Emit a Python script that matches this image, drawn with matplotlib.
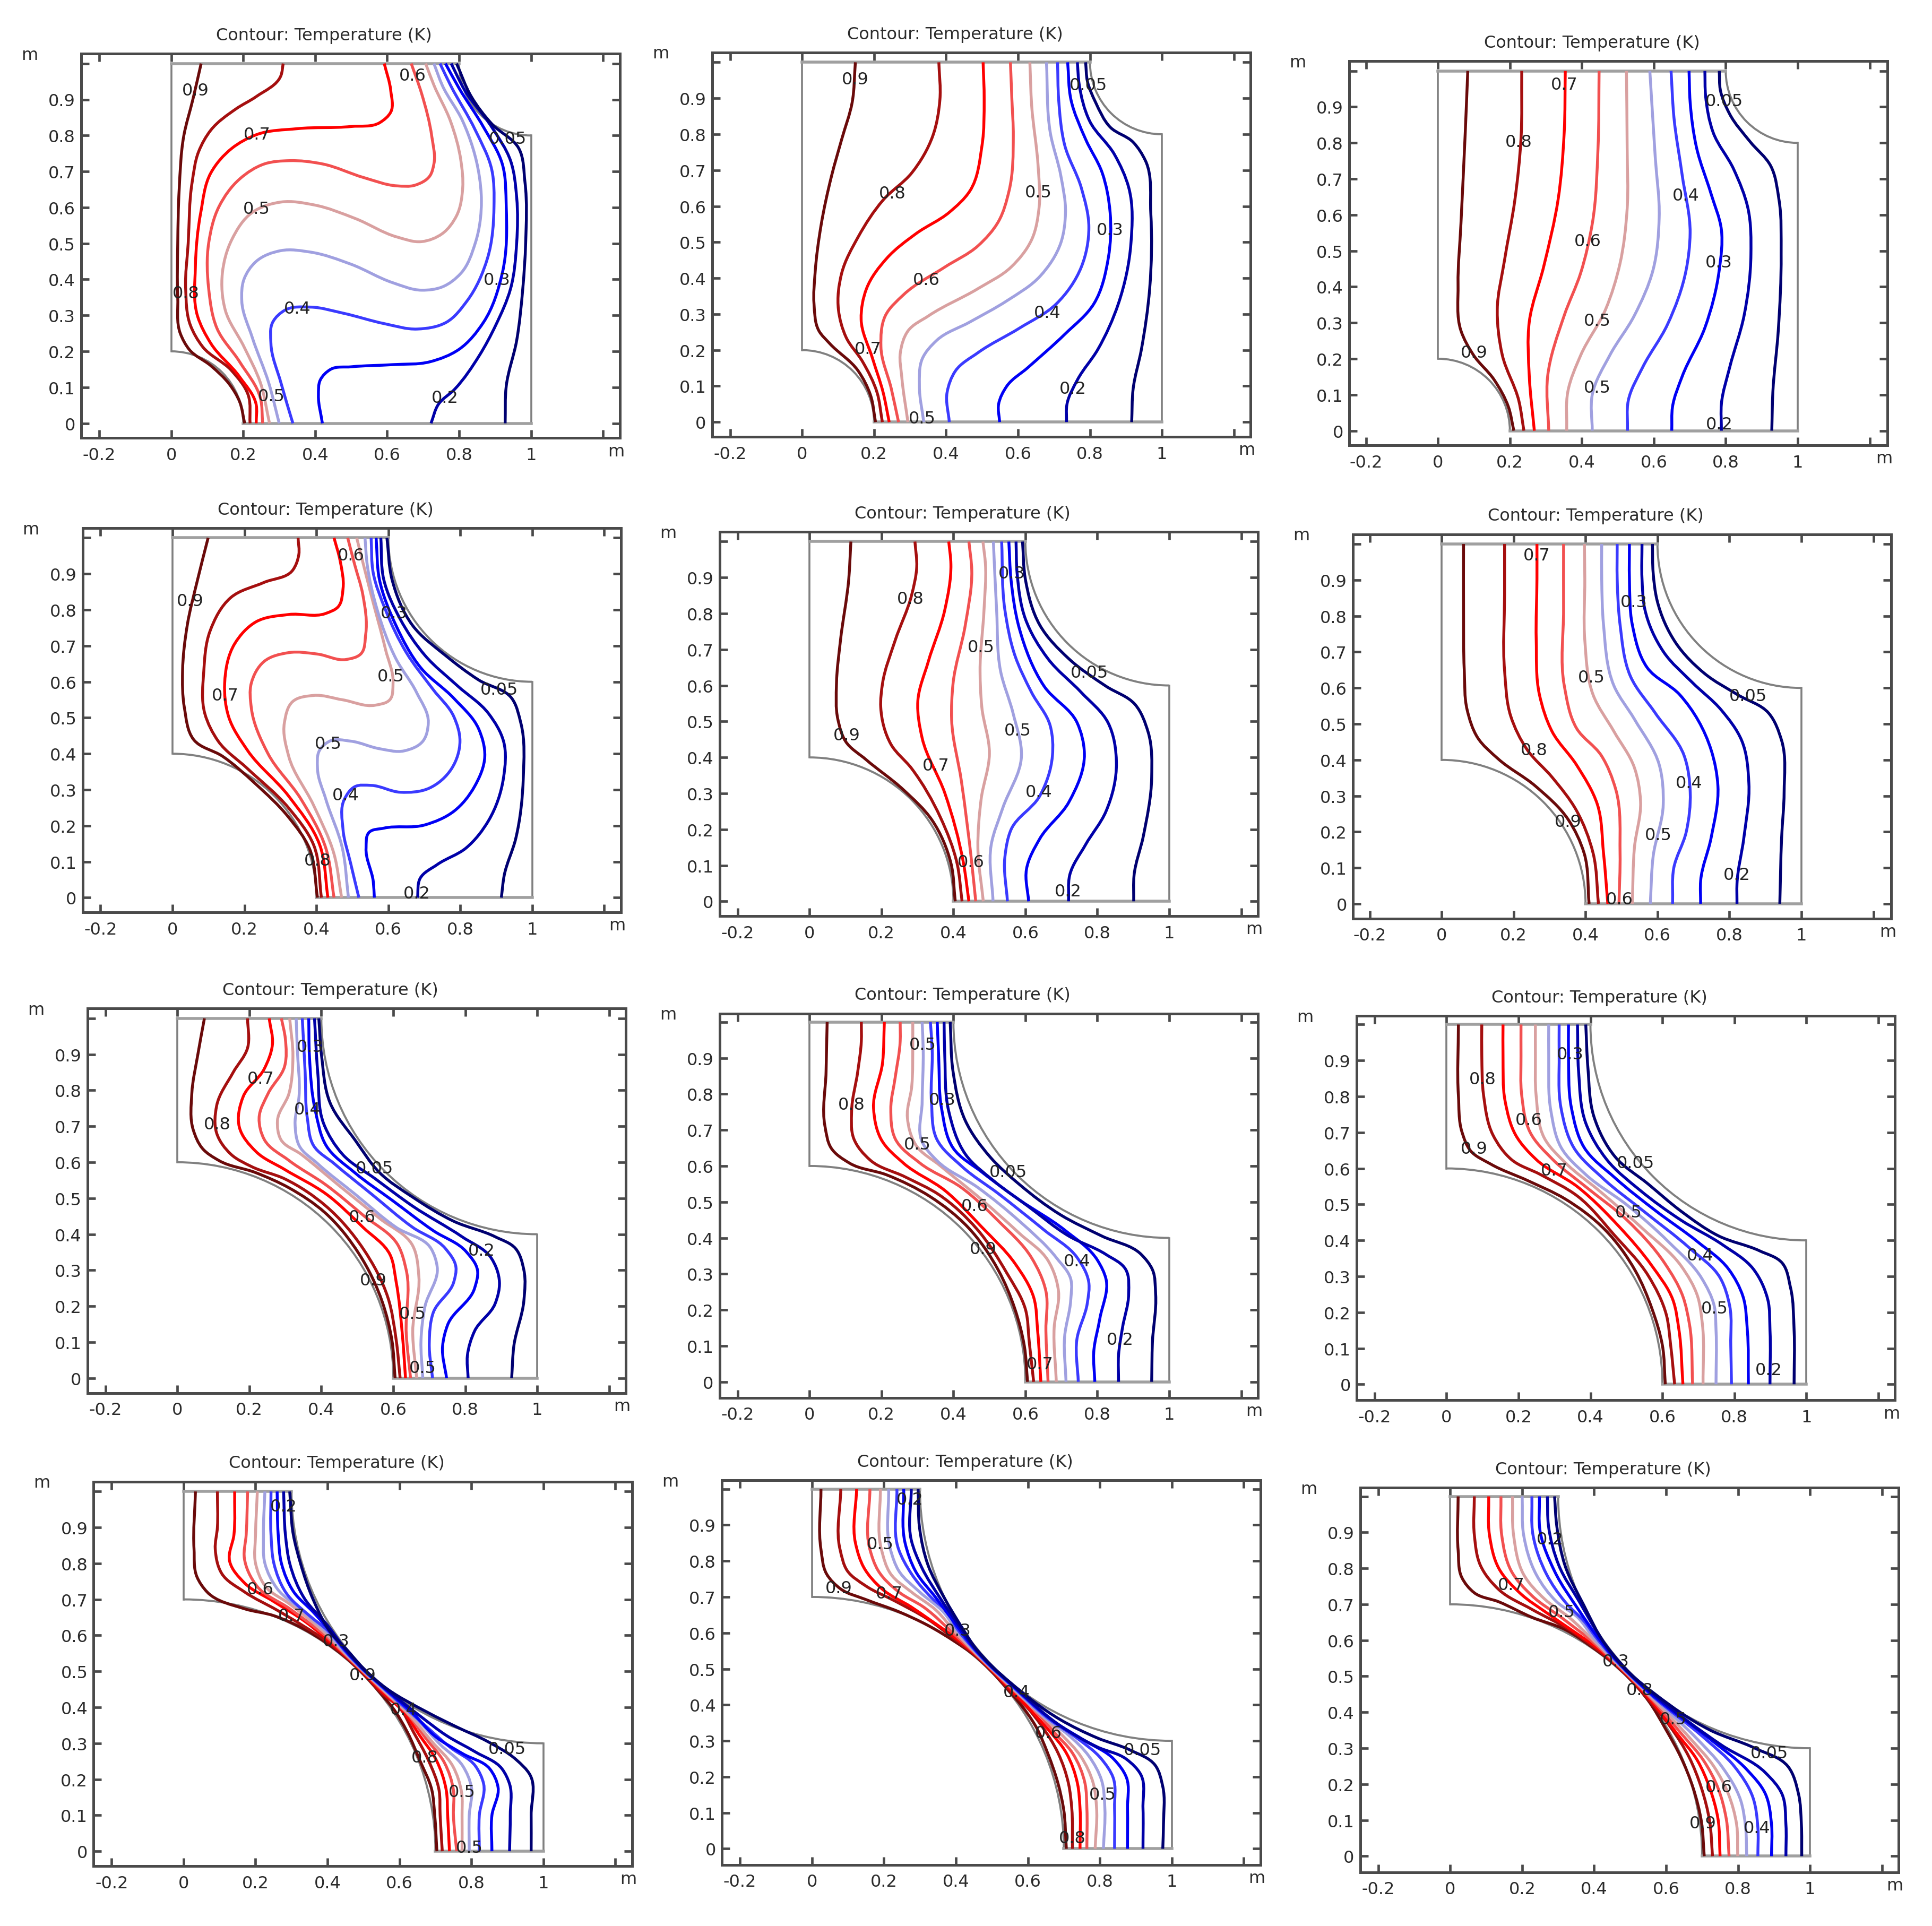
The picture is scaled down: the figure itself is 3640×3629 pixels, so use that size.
import numpy as np
import matplotlib
matplotlib.use('Agg')
import matplotlib.pyplot as plt
from matplotlib.patches import Arc, PathPatch
from matplotlib.path import Path

title_text = 'Contour: Temperature (K)'
x_ticks = [-0.2, 0, 0.2, 0.4, 0.6, 0.8, 1, 1.2]
x_tick_labels = ['-0.2', '0', '0.2', '0.4', '0.6', '0.8', '1', '']
y_ticks = [0, 0.1, 0.2, 0.3, 0.4, 0.5, 0.6, 0.7, 0.8, 0.9, 1]
y_tick_labels = ['0', '0.1', '0.2', '0.3', '0.4', '0.5', '0.6', '0.7', '0.8', '0.9', '']
line_colors = ['#6a0a0a', '#a50f0f', '#ff0000', '#f25050', '#d9a0a0',
               '#a0a0e0', '#3a3aff', '#0000f5', '#0000a8', '#000070']

# fillet radius of each panel
radius = [0.2, 0.2, 0.2, 0.4, 0.4, 0.4, 0.6, 0.6, 0.6, 0.7, 0.7, 0.7]

# panel frames in pixels of the 1568 wide view: left, top, x of 0, y of 0
frame_left = [66, 578, 1095, 67, 584, 1098, 71, 584, 1101, 76, 586, 1104]
frame_top = [44, 43, 50, 429, 432, 434, 819, 823, 825, 1203, 1202, 1208]
origin_x = [139, 651, 1167, 140, 657, 1170, 144, 657, 1174, 149, 659, 1177]
origin_y = [344, 343, 350, 729, 732, 734, 1119, 1122, 1124, 1503, 1501, 1507]

lines_1 = [
    [(.204,0),(.19,.06),(.162,.108),(.11,.16),(.05,.205),(.025,.25),(.018,.35),(.018,.5),(.022,.65),(.035,.8),(.06,.9),(.083,1)],
    [(.219,0),(.214,.078),(.168,.146),(.087,.213),(.053,.273),(.04,.374),(.047,.5),(.058,.67),(.076,.755),(.11,.815),(.18,.874),(.236,.908),(.305,.967),(.311,1)],
    [(.236,0),(.236,.052),(.19,.129),(.11,.222),(.073,.298),(.067,.434),(.082,.586),(.11,.696),(.168,.764),(.236,.802),(.351,.819),(.5,.825),(.58,.836),(.61,.865),(.61,.925),(.592,1)],
    [(.254,0),(.248,.069),(.19,.171),(.127,.264),(.104,.374),(.104,.501),(.133,.603),(.19,.679),(.259,.721),(.328,.73),(.42,.721),(.535,.683),(.627,.66),(.678,.662),(.719,.688),(.73,.721),(.724,.798),(.696,.916),(.667,1)],
    [(.273,0),(.248,.112),(.202,.213),(.15,.315),(.142,.417),(.168,.51),(.225,.586),(.305,.615),(.397,.607),(.512,.569),(.627,.518),(.696,.505),(.753,.527),(.793,.577),(.81,.654),(.805,.73),(.776,.84),(.73,.94),(.707,1)],
    [(.30,0),(.271,.112),(.225,.239),(.196,.34),(.202,.4),(.236,.45),(.305,.48),(.386,.476),(.5,.442),(.615,.391),(.696,.37),(.753,.379),(.805,.417),(.845,.501),(.862,.62),(.856,.688),(.81,.84),(.753,.94),(.73,1)],
    [(.338,0),(.305,.112),(.277,.222),(.282,.281),(.317,.315),(.386,.323),(.478,.306),(.592,.277),(.684,.262),(.765,.281),(.822,.34),(.879,.459),(.897,.603),(.891,.704),(.845,.815),(.776,.94),(.747,1)],
    [(.42,0),(.409,.078),(.414,.12),(.443,.15),(.5,.157),(.615,.163),(.719,.171),(.799,.205),(.868,.281),(.92,.417),(.931,.603),(.92,.721),(.868,.823),(.799,.933),(.762,1)],
    [(.722,0),(.742,.052),(.788,.095),(.856,.188),(.902,.273),(.943,.374),(.96,.501),(.96,.628),(.943,.73),(.891,.823),(.816,.925),(.778,1)],
    [(.928,0),(.931,.103),(.96,.23),(.977,.374),(.985,.501),(.983,.671),(.966,.764),(.891,.832),(.834,.908),(.793,1)],
]
labels_1 = [('0.9',.068,.925),('0.6',.67,.967),('0.7',.239,.802),('0.05',.935,.791),('0.5',.237,.596),('0.3',.905,.398),('0.8',.041,.362),('0.4',.351,.319),('0.5',.279,.076),('0.2',.761,.071)]

lines_2 = [
    [(.204,0),(.19,.075),(.156,.142),(.076,.219),(.047,.253),(.033,.329),(.036,.414),(.053,.549),(.082,.685),(.11,.786),(.139,.888),(.148,1)],
    [(.223,0),(.208,.083),(.168,.168),(.122,.236),(.101,.312),(.11,.414),(.156,.515),(.225,.617),(.305,.693),(.363,.795),(.383,.897),(.38,1)],
    [(.242,0),(.225,.083),(.196,.176),(.164,.286),(.179,.371),(.236,.456),(.317,.524),(.409,.583),(.466,.642),(.5,.769),(.506,.897),(.503,1)],
    [(.268,0),(.248,.092),(.219,.21),(.231,.295),(.282,.354),(.397,.431),(.489,.49),(.546,.558),(.575,.642),(.587,.795),(.583,.897),(.579,1)],
    [(.294,0),(.277,.125),(.273,.193),(.294,.253),(.351,.295),(.489,.371),(.581,.431),(.638,.507),(.659,.6),(.656,.71),(.638,.88),(.633,1)],
    [(.338,0),(.326,.1),(.334,.176),(.374,.227),(.466,.278),(.569,.337),(.661,.405),(.719,.498),(.732,.583),(.719,.685),(.69,.803),(.679,1)],
    [(.409,0),(.403,.083),(.426,.142),(.489,.193),(.604,.261),(.707,.329),(.776,.431),(.797,.541),(.776,.651),(.73,.769),(.713,.897),(.71,1)],
    [(.549,0),(.546,.049),(.569,.1),(.627,.151),(.73,.244),(.811,.329),(.851,.456),(.856,.583),(.834,.693),(.788,.786),(.747,.897),(.738,1)],
    [(.735,0),(.736,.049),(.765,.117),(.822,.202),(.879,.329),(.914,.498),(.908,.651),(.868,.744),(.799,.837),(.77,.939),(.765,1)],
    [(.916,0),(.92,.092),(.943,.202),(.966,.371),(.969,.583),(.954,.727),(.92,.778),(.856,.82),(.816,.888),(.793,.947),(.788,1)],
]
labels_2 = [('0.9',.148,.952),('0.05',.796,.937),('0.8',.251,.636),('0.5',.657,.638),('0.3',.856,.534),('0.6',.346,.395),('0.4',.682,.303),('0.7',.183,.203),('0.2',.753,.093),('0.5',.334,.01)]

lines_3 = [
    [(.211,0),(.196,.066),(.156,.142),(.099,.21),(.064,.278),(.056,.405),(.064,.575),(.076,.829),(.083,1)],
    [(.239,0),(.225,.083),(.179,.21),(.165,.337),(.185,.473),(.214,.642),(.231,.812),(.233,1)],
    [(.268,0),(.254,.151),(.254,.303),(.294,.456),(.334,.642),(.351,.829),(.354,1)],
    [(.308,0),(.305,.151),(.351,.32),(.397,.439),(.429,.575),(.445,.786),(.448,1)],
    [(.358,0),(.361,.108),(.397,.21),(.466,.337),(.506,.464),(.526,.617),(.526,.786),(.524,1)],
    [(.429,0),(.429,.1),(.478,.21),(.546,.32),(.598,.447),(.615,.592),(.604,.761),(.589,1)],
    [(.527,0),(.529,.083),(.569,.176),(.638,.295),(.69,.447),(.701,.549),(.679,.71),(.656,.871),(.648,1)],
    [(.65,0),(.652,.066),(.679,.151),(.742,.286),(.782,.447),(.788,.558),(.759,.659),(.719,.786),(.701,.914),(.698,1)],
    [(.788,0),(.788,.075),(.811,.176),(.851,.32),(.87,.49),(.862,.617),(.822,.727),(.765,.829),(.744,.931),(.742,1)],
    [(.928,0),(.931,.108),(.946,.278),(.954,.49),(.948,.642),(.925,.736),(.868,.803),(.811,.88),(.785,.947),(.782,1)],
]
labels_3 = [('0.7',.352,.962),('0.05',.796,.916),('0.8',.225,.803),('0.4',.689,.653),('0.6',.417,.526),('0.3',.781,.467),('0.5',.443,.305),('0.9',.101,.217),('0.5',.443,.119),('0.2',.783,.018)]

lines_4 = [
    [(.403,0),(.38,.138),(.323,.223),(.231,.316),(.139,.393),(.059,.439),(.033,.528),(.028,.63),(.041,.757),(.07,.885),(.099,1)],
    [(.414,0),(.392,.147),(.323,.249),(.208,.359),(.127,.435),(.09,.511),(.087,.63),(.104,.74),(.162,.834),(.254,.876),(.334,.91),(.351,.953),(.349,1)],
    [(.432,0),(.409,.147),(.323,.282),(.208,.41),(.156,.503),(.145,.596),(.173,.706),(.231,.766),(.323,.787),(.426,.79),(.46,.808),(.474,.859),(.466,.936),(.449,1)],
    [(.449,0),(.426,.138),(.357,.274),(.265,.401),(.219,.528),(.219,.596),(.254,.656),(.323,.681),(.403,.677),(.483,.662),(.523,.677),(.537,.732),(.529,.842),(.506,.927),(.487,1)],
    [(.47,0),(.449,.121),(.392,.257),(.323,.393),(.311,.486),(.334,.545),(.392,.562),(.472,.55),(.564,.535),(.604,.55),(.613,.596),(.592,.69),(.552,.842),(.512,1)],
    [(.489,0),(.472,.138),(.426,.274),(.403,.359),(.409,.41),(.437,.435),(.495,.435),(.575,.414),(.644,.408),(.696,.435),(.711,.486),(.678,.571),(.621,.664),(.569,.8),(.541,.927),(.535,1)],
    [(.518,0),(.495,.096),(.474,.189),(.478,.274),(.506,.308),(.552,.312),(.633,.293),(.713,.304),(.776,.359),(.799,.435),(.782,.503),(.724,.579),(.65,.681),(.592,.8),(.558,.902),(.552,1)],
    [(.561,0),(.558,.045),(.538,.138),(.546,.181),(.587,.193),(.701,.202),(.782,.24),(.839,.308),(.868,.393),(.851,.469),(.782,.554),(.69,.639),(.621,.757),(.575,.885),(.566,1)],
    [(.681,0),(.688,.053),(.736,.092),(.816,.138),(.879,.215),(.92,.333),(.92,.435),(.879,.511),(.793,.588),(.702,.673),(.633,.774),(.587,.885),(.579,1)],
    [(.914,0),(.922,.062),(.954,.164),(.975,.333),(.968,.486),(.943,.554),(.851,.605),(.759,.673),(.667,.757),(.61,.885),(.596,1)],
]
labels_4 = [('0.6',.496,.951),('0.9',.049,.825),('0.3',.615,.791),('0.5',.607,.615),('0.05',.908,.578),('0.7',.147,.562),('0.5',.433,.427),('0.4',.481,.284),('0.8',.403,.103),('0.2',.679,.011)]

lines_5 = [
    [(.405,0),(.393,.106),(.341,.225),(.261,.31),(.157,.394),(.1,.445),(.079,.505),(.075,.606),(.086,.725),(.109,.895),(.115,1)],
    [(.424,0),(.41,.106),(.364,.233),(.284,.369),(.226,.437),(.198,.539),(.203,.606),(.238,.725),(.284,.852),(.298,.929),(.293,1)],
    [(.443,0),(.428,.106),(.376,.301),(.313,.454),(.301,.556),(.33,.666),(.376,.81),(.393,.937),(.387,1)],
    [(.462,0),(.451,.106),(.422,.335),(.395,.505),(.399,.606),(.433,.768),(.451,.92),(.443,1)],
    [(.483,0),(.468,.148),(.477,.284),(.5,.411),(.479,.539),(.474,.64),(.485,.81),(.489,.937),(.482,1)],
    [(.51,0),(.505,.157),(.537,.259),(.589,.403),(.566,.522),(.531,.64),(.52,.81),(.511,1)],
    [(.55,0),(.543,.123),(.56,.199),(.64,.293),(.675,.403),(.669,.488),(.617,.581),(.571,.683),(.543,.81),(.534,1)],
    [(.609,0),(.603,.089),(.64,.174),(.721,.276),(.764,.411),(.744,.496),(.652,.598),(.583,.759),(.56,.895),(.554,1)],
    [(.72,0),(.723,.072),(.767,.157),(.824,.25),(.853,.386),(.83,.496),(.755,.581),(.663,.674),(.6,.785),(.577,.912),(.574,1)],
    [(.901,0),(.902,.072),(.928,.182),(.951,.344),(.941,.471),(.905,.547),(.824,.598),(.721,.674),(.64,.768),(.6,.895),(.592,1)],
]
labels_5 = [('0.3',.562,.912),('0.8',.28,.841),('0.5',.477,.706),('0.05',.778,.635),('0.5',.579,.475),('0.9',.103,.462),('0.7',.351,.377),('0.4',.638,.303),('0.6',.448,.109),('0.2',.718,.027)]

lines_6 = [
    [(.41,0),(.396,.141),(.352,.234),(.261,.327),(.157,.403),(.1,.462),(.071,.539),(.063,.649),(.061,.818),(.061,1)],
    [(.436,0),(.421,.141),(.375,.259),(.307,.352),(.238,.428),(.192,.522),(.175,.649),(.175,.86),(.175,1)],
    [(.462,0),(.45,.141),(.433,.276),(.375,.386),(.307,.479),(.272,.581),(.263,.733),(.265,.903),(.265,1)],
    [(.493,0),(.496,.141),(.484,.318),(.444,.412),(.375,.488),(.341,.606),(.339,.818),(.339,1)],
    [(.53,0),(.536,.157),(.553,.284),(.536,.378),(.479,.479),(.421,.581),(.398,.733),(.398,.903),(.397,1)],
    [(.58,0),(.588,.132),(.616,.276),(.605,.386),(.536,.513),(.479,.606),(.45,.776),(.445,.903),(.445,1)],
    [(.642,0),(.645,.098),(.68,.2),(.691,.31),(.674,.412),(.594,.53),(.525,.632),(.496,.776),(.488,.903),(.488,1)],
    [(.72,0),(.72,.064),(.749,.183),(.768,.327),(.749,.428),(.662,.581),(.571,.657),(.53,.776),(.522,.903),(.522,1)],
    [(.821,0),(.821,.056),(.84,.183),(.854,.335),(.834,.454),(.777,.539),(.697,.615),(.617,.7),(.565,.818),(.557,.903),(.557,1)],
    [(.94,0),(.945,.183),(.952,.31),(.945,.454),(.909,.53),(.823,.581),(.731,.64),(.651,.725),(.599,.843),(.588,.92),(.586,1)],
]
labels_6 = [('0.7',.265,.969),('0.3',.535,.839),('0.5',.416,.629),('0.05',.852,.578),('0.8',.257,.427),('0.4',.687,.335),('0.9',.351,.228),('0.5',.602,.191),('0.2',.821,.081),('0.6',.494,.012)]

lines_7 = [
    [(.605,0),(.596,.106),(.57,.21),(.505,.345),(.41,.46),(.31,.529),(.218,.571),(.115,.605),(.069,.639),(.044,.69),(.04,.791),(.057,.901),(.075,1)],
    [(.619,0),(.608,.106),(.585,.224),(.516,.36),(.413,.478),(.298,.554),(.206,.588),(.149,.622),(.109,.681),(.109,.757),(.155,.85),(.195,.918),(.195,1)],
    [(.634,0),(.625,.123),(.608,.267),(.591,.343),(.516,.419),(.413,.512),(.298,.58),(.218,.63),(.172,.698),(.183,.783),(.241,.859),(.264,.927),(.255,1)],
    [(.648,0),(.636,.123),(.636,.3),(.614,.368),(.516,.453),(.413,.537),(.31,.605),(.241,.664),(.227,.723),(.252,.791),(.298,.867),(.3,.943),(.289,1)],
    [(.665,0),(.654,.131),(.671,.283),(.654,.368),(.562,.444),(.447,.537),(.344,.622),(.287,.664),(.278,.715),(.31,.791),(.321,.893),(.312,1)],
    [(.682,0),(.677,.106),(.688,.199),(.722,.309),(.705,.36),(.608,.419),(.493,.512),(.39,.596),(.338,.647),(.327,.706),(.338,.783),(.333,.918),(.33,1)],
    [(.709,0),(.7,.097),(.711,.182),(.768,.267),(.774,.309),(.745,.36),(.654,.419),(.539,.512),(.436,.596),(.378,.647),(.361,.723),(.355,.85),(.347,1)],
    [(.748,0),(.737,.089),(.751,.148),(.826,.25),(.834,.3),(.803,.351),(.711,.41),(.596,.495),(.493,.571),(.413,.647),(.384,.74),(.367,.893),(.365,1)],
    [(.808,0),(.806,.063),(.826,.131),(.883,.207),(.895,.267),(.872,.334),(.791,.393),(.654,.478),(.55,.554),(.459,.622),(.407,.706),(.39,.85),(.381,1)],
    [(.929,0),(.935,.089),(.963,.216),(.963,.3),(.94,.36),(.883,.393),(.768,.436),(.654,.503),(.562,.571),(.495,.66),(.424,.766),(.401,.893),(.393,1)],
]
labels_7 = [('0.3',.369,.921),('0.7',.231,.832),('0.4',.362,.746),('0.8',.111,.706),('0.05',.548,.583),('0.6',.513,.447),('0.2',.846,.354),('0.9',.545,.271),('0.5',.654,.179),('0.5',.681,.028)]

lines_8 = [
    [(.606,0),(.597,.1),(.571,.202),(.525,.31),(.44,.43),(.335,.515),(.215,.575),(.111,.608),(.06,.65),(.043,.71),(.046,.862),(.049,1)],
    [(.623,0),(.611,.108),(.6,.202),(.548,.303),(.465,.425),(.36,.52),(.265,.57),(.169,.616),(.123,.676),(.117,.752),(.134,.862),(.144,.947),(.144,1)],
    [(.643,0),(.634,.142),(.623,.235),(.571,.329),(.479,.43),(.376,.532),(.261,.608),(.198,.676),(.178,.76),(.203,.887),(.208,1)],
    [(.663,0),(.657,.142),(.657,.252),(.617,.345),(.525,.447),(.422,.54),(.307,.608),(.238,.676),(.226,.76),(.238,.845),(.252,.947),(.252,1)],
    [(.686,0),(.68,.151),(.692,.252),(.663,.337),(.583,.413),(.479,.506),(.364,.6),(.295,.659),(.272,.735),(.284,.82),(.287,.947),(.287,1)],
    [(.713,0),(.709,.125),(.726,.227),(.726,.286),(.686,.345),(.583,.447),(.468,.54),(.353,.616),(.313,.667),(.313,.777),(.316,.921),(.313,1)],
    [(.747,0),(.743,.117),(.772,.218),(.776,.278),(.744,.345),(.652,.422),(.525,.523),(.422,.6),(.353,.676),(.339,.777),(.341,.921),(.336,1)],
    [(.793,0),(.79,.083),(.807,.176),(.824,.286),(.801,.337),(.709,.422),(.583,.506),(.479,.583),(.399,.65),(.367,.76),(.359,.904),(.355,1)],
    [(.859,0),(.859,.075),(.87,.151),(.887,.244),(.879,.312),(.824,.354),(.721,.405),(.606,.489),(.514,.557),(.433,.633),(.387,.752),(.376,.904),(.374,1)],
    [(.951,0),(.953,.108),(.962,.244),(.953,.312),(.922,.354),(.813,.405),(.698,.464),(.583,.549),(.502,.625),(.433,.726),(.399,.862),(.391,1)],
]
labels_8 = [('0.5',.315,.937),('0.3',.369,.783),('0.8',.117,.771),('0.5',.299,.66),('0.05',.552,.583),('0.6',.459,.489),('0.9',.482,.369),('0.4',.743,.335),('0.2',.864,.117),('0.7',.64,.049)]

lines_9 = [
    [(.608,0),(.6,.108),(.571,.21),(.525,.315),(.44,.43),(.33,.515),(.226,.566),(.123,.612),(.066,.65),(.043,.701),(.033,.803),(.033,1)],
    [(.634,0),(.623,.108),(.611,.193),(.56,.303),(.468,.413),(.364,.523),(.261,.583),(.18,.625),(.129,.693),(.103,.803),(.098,.913),(.098,1)],
    [(.657,0),(.646,.151),(.629,.235),(.571,.329),(.479,.439),(.364,.549),(.249,.625),(.192,.693),(.163,.786),(.157,.913),(.157,1)],
    [(.684,0),(.675,.168),(.657,.244),(.606,.337),(.502,.456),(.387,.549),(.295,.625),(.232,.701),(.209,.803),(.207,.913),(.207,1)],
    [(.713,0),(.711,.168),(.698,.244),(.652,.329),(.548,.43),(.422,.54),(.33,.616),(.272,.684),(.249,.803),(.247,.913),(.247,1)],
    [(.749,0),(.749,.151),(.744,.218),(.709,.295),(.617,.396),(.502,.498),(.387,.583),(.318,.659),(.29,.76),(.284,.913),(.284,1)],
    [(.792,0),(.79,.108),(.787,.218),(.761,.295),(.675,.379),(.548,.481),(.433,.574),(.353,.659),(.318,.769),(.313,.913),(.313,1)],
    [(.839,0),(.836,.151),(.824,.244),(.784,.32),(.698,.396),(.583,.481),(.468,.574),(.382,.659),(.347,.769),(.339,.913),(.339,1)],
    [(.899,0),(.899,.151),(.893,.235),(.853,.32),(.767,.388),(.652,.456),(.537,.54),(.445,.625),(.387,.726),(.367,.87),(.364,1)],
    [(.966,0),(.966,.151),(.956,.269),(.933,.337),(.87,.371),(.755,.413),(.652,.481),(.56,.557),(.468,.633),(.41,.743),(.393,.879),(.387,1)],
]
labels_9 = [('0.3',.343,.917),('0.8',.1,.848),('0.6',.228,.734),('0.9',.076,.655),('0.05',.526,.615),('0.7',.299,.594),('0.5',.506,.478),('0.4',.705,.358),('0.5',.745,.21),('0.2',.895,.039)]

lines_10 = [
    [(.704,0),(.698,.1),(.69,.17),(.656,.254),(.622,.331),(.581,.399),(.55,.436),(.5,.492),(.45,.539),(.4,.577),(.33,.62),(.25,.655),(.169,.674),(.065,.721),(.037,.763),(.029,.84),(.033,1)],
    [(.719,0),(.713,.1),(.71,.17),(.68,.254),(.639,.331),(.6,.399),(.55,.44),(.5,.494),(.45,.541),(.4,.582),(.33,.628),(.26,.67),(.169,.721),(.106,.772),(.088,.84),(.094,.9),(.094,1)],
    [(.739,0),(.734,.1),(.73,.17),(.702,.254),(.656,.322),(.61,.39),(.55,.445),(.5,.496),(.45,.544),(.4,.588),(.341,.636),(.249,.695),(.169,.746),(.128,.806),(.14,.88),(.142,1)],
    [(.759,0),(.75,.1),(.75,.17),(.725,.246),(.673,.314),(.622,.382),(.55,.45),(.5,.498),(.45,.546),(.4,.594),(.295,.674),(.203,.738),(.169,.814),(.174,.88),(.178,1)],
    [(.774,0),(.774,.1),(.773,.161),(.748,.237),(.69,.305),(.633,.373),(.55,.453),(.5,.5),(.45,.549),(.4,.6),(.295,.687),(.226,.738),(.2,.8),(.2,.88),(.205,1)],
    [(.794,0),(.794,.1),(.8,.178),(.776,.237),(.713,.297),(.65,.365),(.55,.456),(.5,.502),(.45,.552),(.4,.607),(.329,.67),(.26,.73),(.226,.8),(.222,.88),(.226,1)],
    [(.822,0),(.822,.1),(.834,.187),(.811,.237),(.742,.288),(.673,.348),(.55,.458),(.5,.503),(.45,.555),(.4,.614),(.352,.653),(.283,.721),(.251,.8),(.243,.88),(.243,1)],
    [(.857,0),(.857,.1),(.874,.178),(.851,.229),(.776,.271),(.696,.322),(.639,.382),(.55,.46),(.5,.505),(.45,.558),(.4,.62),(.36,.665),(.306,.721),(.272,.8),(.263,.88),(.26,1)],
    [(.906,0),(.908,.1),(.906,.187),(.885,.229),(.811,.276),(.73,.322),(.661,.373),(.55,.462),(.5,.506),(.45,.561),(.4,.628),(.335,.704),(.295,.8),(.283,.88),(.278,1)],
    [(.966,0),(.966,.1),(.963,.212),(.925,.254),(.845,.305),(.76,.345),(.68,.385),(.55,.463),(.5,.508),(.45,.564),(.415,.6),(.36,.7),(.325,.8),(.305,.88),(.295,1)],
]
labels_10 = [('0.2',.278,.958),('0.6',.213,.728),('0.7',.3,.655),('0.3',.424,.584),('0.9',.498,.489),('0.4',.612,.394),('0.05',.899,.284),('0.8',.67,.26),('0.5',.774,.164),('0.5',.795,.01)]

lines_11 = [
    [(.707,0),(.699,.113),(.684,.181),(.655,.266),(.621,.342),(.58,.401),(.55,.436),(.5,.492),(.45,.539),(.4,.574),(.322,.621),(.241,.659),(.149,.693),(.08,.722),(.04,.765),(.025,.832),(.025,1)],
    [(.724,0),(.722,.113),(.713,.181),(.684,.266),(.638,.342),(.598,.393),(.55,.44),(.5,.494),(.45,.541),(.4,.58),(.322,.638),(.23,.689),(.149,.731),(.098,.773),(.078,.832),(.08,1)],
    [(.745,0),(.745,.113),(.738,.181),(.707,.266),(.655,.333),(.609,.384),(.55,.445),(.5,.496),(.45,.544),(.4,.585),(.33,.635),(.276,.672),(.195,.722),(.144,.782),(.121,.849),(.124,1)],
    [(.764,0),(.764,.113),(.759,.181),(.724,.266),(.672,.325),(.621,.384),(.55,.45),(.5,.498),(.45,.546),(.4,.592),(.31,.672),(.241,.714),(.184,.773),(.161,.832),(.161,1)],
    [(.787,0),(.791,.113),(.782,.181),(.747,.257),(.695,.316),(.632,.376),(.55,.453),(.5,.5),(.45,.549),(.4,.6),(.345,.663),(.276,.714),(.218,.765),(.193,.832),(.19,1)],
    [(.81,0),(.814,.113),(.805,.19),(.77,.257),(.713,.316),(.644,.367),(.55,.456),(.5,.502),(.45,.552),(.4,.61),(.368,.655),(.299,.714),(.241,.773),(.218,.832),(.213,1)],
    [(.841,0),(.841,.113),(.837,.198),(.805,.249),(.736,.308),(.661,.359),(.55,.458),(.5,.503),(.45,.555),(.4,.617),(.379,.655),(.333,.697),(.276,.765),(.241,.832),(.236,1)],
    [(.877,0),(.877,.113),(.874,.198),(.839,.249),(.759,.3),(.678,.35),(.55,.46),(.5,.505),(.45,.558),(.4,.623),(.345,.697),(.287,.773),(.259,.849),(.255,1)],
    [(.92,0),(.92,.113),(.914,.206),(.874,.249),(.793,.283),(.69,.342),(.55,.462),(.5,.506),(.45,.561),(.41,.618),(.356,.697),(.305,.782),(.276,.858),(.276,1)],
    [(.975,0),(.977,.07),(.975,.173),(.954,.232),(.885,.274),(.793,.308),(.69,.359),(.55,.463),(.5,.508),(.45,.564),(.42,.61),(.368,.697),(.322,.79),(.299,.892),(.295,1)],
]
labels_11 = [('0.2',.272,.97),('0.5',.19,.847),('0.9',.075,.725),('0.7',.215,.71),('0.3',.405,.606),('0.4',.568,.435),('0.6',.657,.322),('0.05',.918,.274),('0.5',.808,.151),('0.8',.724,.029)]

lines_12 = [
    [(.706,0),(.698,.097),(.675,.19),(.641,.275),(.6,.351),(.55,.433),(.5,.492),(.45,.539),(.4,.577),(.319,.63),(.227,.664),(.135,.707),(.067,.732),(.032,.775),(.022,.85),(.022,1)],
    [(.729,0),(.721,.097),(.698,.19),(.664,.275),(.612,.359),(.55,.436),(.5,.494),(.45,.541),(.4,.58),(.33,.63),(.227,.686),(.135,.741),(.084,.808),(.067,.893),(.067,1)],
    [(.75,0),(.744,.105),(.721,.19),(.687,.266),(.629,.342),(.555,.436),(.5,.496),(.45,.544),(.4,.585),(.35,.62),(.273,.673),(.193,.732),(.135,.8),(.109,.893),(.107,1)],
    [(.775,0),(.767,.105),(.744,.19),(.704,.266),(.641,.342),(.56,.436),(.5,.498),(.45,.546),(.4,.592),(.308,.664),(.227,.724),(.17,.792),(.143,.893),(.141,1)],
    [(.799,0),(.796,.088),(.773,.173),(.733,.249),(.669,.325),(.56,.44),(.5,.5),(.45,.549),(.4,.598),(.33,.664),(.262,.715),(.204,.783),(.176,.893),(.173,1)],
    [(.824,0),(.821,.08),(.807,.156),(.755,.249),(.687,.325),(.56,.445),(.5,.502),(.45,.552),(.4,.605),(.354,.664),(.296,.707),(.239,.783),(.204,.893),(.2,1)],
    [(.855,0),(.855,.08),(.841,.164),(.79,.249),(.71,.325),(.56,.447),(.5,.503),(.45,.555),(.4,.615),(.377,.647),(.319,.707),(.268,.783),(.23,.893),(.227,1)],
    [(.893,0),(.893,.088),(.876,.173),(.824,.241),(.733,.317),(.56,.45),(.5,.505),(.45,.558),(.4,.622),(.36,.68),(.29,.792),(.25,.902),(.248,1)],
    [(.933,0),(.933,.088),(.922,.173),(.876,.232),(.755,.308),(.565,.45),(.5,.506),(.45,.561),(.41,.62),(.359,.707),(.302,.808),(.273,.919),(.27,1)],
    [(.977,0),(.976,.088),(.968,.173),(.939,.249),(.847,.3),(.721,.351),(.57,.45),(.5,.508),(.45,.564),(.43,.59),(.371,.698),(.319,.808),(.296,.919),(.29,1)],
]
labels_12 = [('0.2',.278,.881),('0.7',.169,.753),('0.5',.31,.679),('0.3',.46,.541),('0.8',.526,.461),('0.5',.619,.381),('0.05',.887,.286),('0.6',.746,.192),('0.9',.702,.092),('0.4',.853,.078)]

all_lines = [lines_1, lines_2, lines_3, lines_4, lines_5, lines_6,
             lines_7, lines_8, lines_9, lines_10, lines_11, lines_12]
all_labels = [labels_1, labels_2, labels_3, labels_4, labels_5, labels_6,
              labels_7, labels_8, labels_9, labels_10, labels_11, labels_12]

W, H = 3640, 3630
VIEW = 3640 / 1568
FRAME_W, FRAME_H, UNIT = 437, 312, 292
TEXT_COLOR = '#2b2b2b'


def curve_path(points):
    # bezier through the read points, so the lines are not kinked
    p = np.array(points, dtype=float)
    seg = p[1:] - p[:-1]
    h = np.linalg.norm(seg, axis=1)
    d = np.zeros_like(p)
    d[0] = seg[0] / h[0]
    d[-1] = seg[-1] / h[-1]
    for i in range(1, len(p) - 1):
        # the shorter neighbour counts more, that keeps uneven spacing smooth
        t = seg[i - 1] / h[i - 1] * h[i] + seg[i] / h[i] * h[i - 1]
        d[i] = t / np.linalg.norm(t)
    verts = [p[0]]
    codes = [Path.MOVETO]
    for i in range(len(p) - 1):
        verts += [p[i] + d[i] * h[i] / 3, p[i + 1] - d[i + 1] * h[i] / 3, p[i + 1]]
        codes += [Path.CURVE4] * 3
    return Path(verts, codes)


def draw_shape(ax, r):
    ax.add_patch(Arc((0, 0), 2 * r, 2 * r, theta1=0, theta2=90, color='#808080', lw=2.8, zorder=2))
    ax.add_patch(Arc((1, 1), 2 * r, 2 * r, theta1=180, theta2=270, color='#808080', lw=2.8, zorder=2))
    ax.plot([0, 0], [r, 1], color='#808080', lw=2.6, zorder=2)
    ax.plot([1, 1], [0, 1 - r], color='#808080', lw=2.6, zorder=2)
    ax.plot([0, 1 - r], [1, 1], color='#a0a0a0', lw=4, zorder=2)
    ax.plot([r, 1], [0, 0], color='#a0a0a0', lw=4, zorder=2)


fig = plt.figure(figsize=(W / 100, H / 100), dpi=100, facecolor='white')

for n in range(12):
    left = frame_left[n] * VIEW / W
    bottom = 1 - (frame_top[n] + FRAME_H) * VIEW / H
    ax = fig.add_axes([left, bottom, FRAME_W * VIEW / W, FRAME_H * VIEW / H])
    x_low = (frame_left[n] - origin_x[n]) / UNIT
    y_low = (origin_y[n] - frame_top[n] - FRAME_H) / UNIT
    ax.set_xlim(x_low, x_low + FRAME_W / UNIT)
    ax.set_ylim(y_low, y_low + FRAME_H / UNIT)

    ax.set_xticks(x_ticks)
    ax.set_xticklabels(x_tick_labels)
    ax.set_yticks(y_ticks)
    ax.set_yticklabels(y_tick_labels)
    ax.tick_params(direction='in', top=True, right=True, length=11, width=3.4, color='#4a4a4a',
                   labelsize=23, labelcolor=TEXT_COLOR)
    ax.tick_params(axis='x', pad=12)
    ax.tick_params(axis='y', pad=8)
    for s in ax.spines.values():
        s.set_linewidth(3.6)
        s.set_color('#4a4a4a')

    draw_shape(ax, radius[n])
    for line, col in zip(all_lines[n], line_colors):
        ax.add_patch(PathPatch(curve_path(line), fill=False, edgecolor=col, lw=3.9,
                               capstyle='butt', zorder=3))
    for txt, lx, ly in all_labels[n]:
        ax.text(lx, ly, txt, ha='center', va='center', fontsize=23, color='#222222', zorder=4)

    ax.text(0.451, 1.048, title_text, transform=ax.transAxes, ha='center', va='center',
            fontsize=23, color=TEXT_COLOR)
    ax.text(0.993, -0.034, 'm', transform=ax.transAxes, ha='center', va='center',
            fontsize=23, color=TEXT_COLOR)
    ax.text(-0.096, 0.997, 'm', transform=ax.transAxes, ha='center', va='center',
            fontsize=23, color=TEXT_COLOR)

fig.savefig('out.png', dpi=100)
